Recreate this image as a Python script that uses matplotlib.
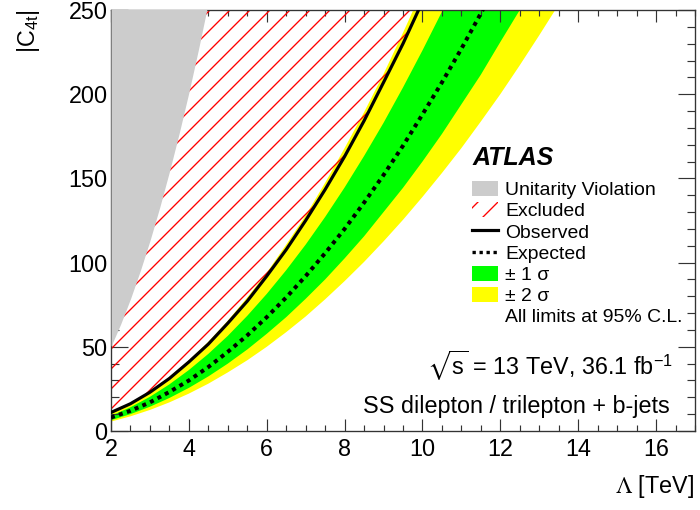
import numpy as np
import matplotlib
matplotlib.use("Agg")
import matplotlib.pyplot as plt
from matplotlib.patches import Patch
from matplotlib.lines import Line2D
from matplotlib.ticker import MultipleLocator

plt.rcParams['font.family'] = ['Liberation Sans', 'DejaVu Sans']
plt.rcParams['mathtext.fontset'] = 'stix'
plt.rcParams['hatch.linewidth'] = 0.8

# limit curves, |C_4t| vs Lambda [TeV]
lam = [2, 2.5, 3, 3.5, 4, 4.5, 5, 5.5, 6, 6.5, 7, 7.5, 8, 8.5, 9, 9.5,
       10, 10.5, 11, 11.5, 12, 12.5, 13, 13.5, 14]
observed = [11, 16.2, 23, 31.2, 41, 51.6, 64, 77.1, 92, 107.7, 125, 143.4,
            163, 184.2, 207, 230, 255, 281, 309, 337, 367, 398, 431, 465, 500]
expected = [8, 12, 17, 23.2, 30, 38, 47, 56.8, 67.6, 79.3, 92, 105.6, 120,
            135.6, 152, 169.4, 188, 207, 227, 248, 270, 293, 317, 342, 368]
minus1s = [9, 14.1, 20.3, 27.7, 36.2, 45.8, 56.5, 68.4, 81.4, 95.5, 110.7,
           127.1, 144.6, 163.3, 183, 204, 226, 249, 273, 299, 325, 353, 382,
           412, 443]
plus1s = [6.4, 10, 14.4, 19.6, 25.6, 32.4, 40, 48.4, 57.7, 67.6, 78.5, 90,
          102.5, 115.6, 130, 144.4, 160, 176.4, 194, 211.6, 231, 250, 271,
          292, 314]
minus2s = [10.5, 16.4, 23.5, 32.1, 42, 53, 65.5, 79.3, 94, 110.7, 128, 147.4,
           168, 189.3, 212, 236.5, 262, 289, 317, 346.5, 377, 409, 443, 477,
           513]
plus2s = [5.6, 8.7, 12.5, 17, 22.2, 28.1, 34.8, 42, 50, 58.7, 68, 78.2, 89,
          100.4, 112.6, 125.4, 139, 153.2, 168, 183.8, 200, 217.2, 235, 253.3,
          272]

# unitarity bound
lam_unit = [2, 2.25, 2.5, 2.75, 3, 3.25, 3.5, 3.75, 4, 4.25, 4.5]
c_unit = [50.3, 63.6, 78.5, 95, 113, 132.7, 154, 176.7, 201, 227, 254.5]

ymax = 250
top_fill = 260

fig = plt.figure(figsize=(700 / 120, 510 / 120), dpi=120)
ax = fig.add_axes([111 / 700, 1 - 431 / 510, 584 / 700, 421 / 510])

ax.fill_between(lam, plus2s, minus2s, color='#ffff00', lw=0, zorder=1)
ax.fill_between(lam, plus1s, minus1s, color='#00ff00', lw=0, zorder=1.5)
ax.fill_between(lam, observed, top_fill, facecolor='none', edgecolor='red',
                hatch='//', lw=0, zorder=2)
ax.fill_between(lam_unit, c_unit, top_fill, color='#cccccc', lw=0, zorder=3)
ax.plot(lam, observed, color='black', lw=1.9, zorder=4)
ax.plot(lam, expected, color='black', lw=2.4, ls=(0, (1, 1.1)),
        dash_capstyle='butt', zorder=4)

ax.set_xlim(2, 17)
ax.set_ylim(0, ymax)
ax.xaxis.set_major_locator(MultipleLocator(2))
ax.xaxis.set_minor_locator(MultipleLocator(0.5))
ax.yaxis.set_major_locator(MultipleLocator(50))
ax.yaxis.set_minor_locator(MultipleLocator(10))
ax.tick_params(which='both', direction='in', top=True, right=True,
               labelsize=14, width=0.7, color='#333333')
ax.tick_params(axis='x', which='major', length=7, pad=4)
ax.tick_params(axis='x', which='minor', length=3.6)
ax.tick_params(axis='y', which='major', length=10, pad=2)
ax.tick_params(axis='y', which='minor', length=5)
for s in ax.spines.values():
    s.set_linewidth(0.8)
    s.set_color('#333333')

fig.text(28 / 700, 1 - 9 / 510, r'|C$_{\mathregular{4t}}$|', rotation=90,
         ha='center', va='top', fontsize=14)
fig.text(694 / 700, 1 - 487 / 510, r'$\Lambda$ [TeV]', ha='right',
         va='center', fontsize=14)

fig.text(473 / 700, 1 - 165 / 510, 'ATLAS', fontsize=15, fontweight='bold',
         fontstyle='italic', va='baseline')

handles = [
    Patch(facecolor='#cccccc', edgecolor='none'),
    Patch(facecolor='none', edgecolor='red', hatch='//', lw=0),
    Line2D([], [], color='black', lw=1.9),
    Line2D([], [], color='black', lw=2.0, ls=(0, (1, 1.1))),
    Patch(facecolor='#00ff00', edgecolor='none'),
    Patch(facecolor='#ffff00', edgecolor='none'),
    Line2D([], [], color='none'),
]
labels = ['Unitarity Violation', 'Excluded', 'Observed', 'Expected',
          '± 1 σ', '± 2 σ', 'All limits at 95% C.L.']
leg = ax.legend(handles, labels, loc='upper left',
                bbox_to_anchor=(472 / 700, 1 - 181 / 510),
                bbox_transform=fig.transFigure, frameon=False, fontsize=11.6,
                borderpad=0, borderaxespad=0, handlelength=1.35,
                handleheight=0.8, handletextpad=0.38, labelspacing=0.16)
leg.set_zorder(5)

fig.text(673 / 700, 1 - 366 / 510,
         r'$\sqrt{\mathregular{s}}$ = 13 TeV, 36.1 fb$^{\mathregular{-1}}$',
         ha='right', va='center', fontsize=14)
fig.text(670 / 700, 1 - 406 / 510, 'SS dilepton / trilepton + b-jets',
         ha='right', va='center', fontsize=14)

fig.savefig('out.png', dpi=120)
